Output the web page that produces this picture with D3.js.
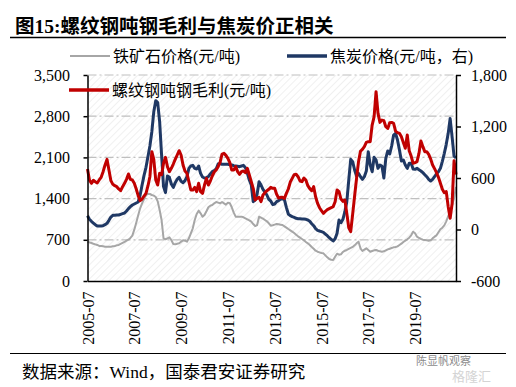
<!DOCTYPE html>
<html>
<head>
<meta charset="utf-8">
<script src="https://cdn.jsdelivr.net/npm/d3@7"></script>
<style>
  body { margin: 0; background: #fff; }
  svg { display: block; }
</style>
</head>
<body>
<svg id="chart" width="516" height="387"></svg>
<script>
// monthly, 2005-07 .. 2021-04
const ironOre = [
  663,657,646,634,623,612,595,595,589,583,
  583,583,583,589,595,606,612,629,646,663,
  685,702,731,770,872,991,1116,1235,1320,1393,
  1455,1484,1478,1461,1450,1427,1354,1206,1036,725,
  708,725,742,697,629,623,634,640,668,691,
  685,668,725,810,895,1036,1138,1195,1150,1093,
  1121,1184,1252,1280,1291,1320,1342,1331,1320,1342,
  1320,1297,1331,1320,1252,1161,1093,1093,1093,1093,
  1082,1065,1048,1031,1008,968,934,951,1093,1076,
  1059,1036,1014,980,940,946,957,968,963,957,
  951,929,906,883,861,838,815,787,759,736,
  714,691,663,640,612,578,549,515,498,487,
  476,470,436,402,374,362,357,413,464,447,
  453,493,515,527,544,561,578,606,640,668,
  555,510,532,555,527,498,510,521,527,515,
  504,498,504,521,538,549,561,572,578,589,
  612,634,663,685,708,736,776,838,810,753,
  731,714,702,697,691,685,691,725,753,776,
  827,878,906,946,1014,1104,1184,1291,1404,1600
];

const cokePrice = [
  1110,1048,1014,985,957,934,934,934,940,957,
  980,1031,1087,1116,1116,1121,1121,1133,1144,1155,
  1189,1229,1263,1291,1308,1325,1342,1461,1631,1795,
  1931,2112,2293,2537,2877,3064,3030,2707,2141,1603,
  1501,1784,1761,1648,1591,1671,1727,1761,1693,1671,
  1705,1772,1914,1954,1965,1914,1903,1954,1829,1767,
  1750,1755,1772,1818,1857,1874,1903,1988,1999,1982,
  1982,1982,1982,1976,1971,1959,1954,1948,1942,1954,
  1965,1925,1829,1716,1631,1348,1376,1478,1688,1631,
  1557,1512,1461,1387,1359,1297,1308,1348,1365,1393,
  1399,1382,1252,1138,1110,1093,1082,1065,1059,1059,
  1053,1053,1048,1036,1014,974,940,889,861,849,
  838,827,798,770,736,708,680,719,810,1036,
  991,1048,1178,1348,1716,2067,2027,1886,1784,1829,
  1772,1727,1772,1869,2197,1971,1857,2101,2056,1914,
  1971,1954,1750,2084,2209,2158,2294,2480,2509,2395,
  2225,2039,2056,1971,1914,1999,1999,1903,1897,1914,
  1891,1869,1841,1806,1772,1727,1699,1727,1772,1823,
  1857,1914,2033,2169,2322,2509,2760,2450,2120,2090
];

const rebarMargin = [
  705,577,538,573,557,542,577,608,674,751,
  817,693,569,526,511,499,472,452,499,538,
  584,647,584,577,538,472,394,336,355,390,
  421,507,615,907,817,577,518,654,639,771,
  841,732,674,713,763,817,868,918,868,751,
  681,654,557,460,460,491,441,538,441,421,
  518,596,518,565,623,670,693,732,782,879,
  887,864,829,779,693,693,732,674,643,674,
  681,662,713,635,557,480,344,363,375,324,
  402,429,452,468,491,480,480,410,367,375,
  375,363,421,472,553,596,639,643,615,565,
  557,600,577,511,476,452,499,382,305,254,
  219,188,212,231,243,254,266,324,460,441,
  355,328,344,188,20,-25,180,390,596,790,
  911,934,965,1015,1023,1023,1217,1314,1606,1353,
  1248,1275,1268,1198,1178,1244,1248,1237,1147,1128,
  1120,1081,1012,946,1101,918,856,771,779,790,
  887,1031,965,907,907,876,821,751,709,662,
  608,538,468,429,441,266,130,300,800,640
];

const tickLabels = ["2005-07","2007-07","2009-07","2011-07","2013-07","2015-07","2017-07","2019-07"];
const leftTicks = [0, 700, 1400, 2100, 2800, 3500];
const rightTicks = [-600, 0, 600, 1200, 1800];

const months = [];
for (let i = 0; i < ironOre.length; i++) {
  let yr = 2005 + Math.floor((6 + i) / 12);
  let mo = ((6 + i) % 12) + 1;
  months.push(`${yr}-${String(mo).padStart(2, "0")}`);
}

const serif = "'Liberation Serif', 'Noto Sans CJK SC', serif";
const svg = d3.select("#chart");

let plot = { left: 87.5, right: 456, top: 75, bottom: 281 };

// hatch background
let defs = svg.append("defs");
let pat = defs.append("pattern")
  .attr("id", "hatch")
  .attr("patternUnits", "userSpaceOnUse")
  .attr("width", 5)
  .attr("height", 5)
  .attr("patternTransform", "rotate(45)");
pat.append("line")
  .attr("x1", 0).attr("y1", 0).attr("x2", 0).attr("y2", 5)
  .attr("stroke", "#e6e6e6")
  .attr("stroke-width", 1.2);

svg.append("rect")
  .attr("x", plot.left)
  .attr("y", plot.top)
  .attr("width", plot.right - plot.left)
  .attr("height", plot.bottom - plot.top)
  .attr("fill", "url(#hatch)");

let x = d3.scalePoint().domain(months).range([plot.left, plot.right]);
let yLeft = d3.scaleLinear().domain([0, 3500]).range([plot.bottom, plot.top]);
let yRight = d3.scaleLinear().domain([-600, 1800]).range([plot.bottom, plot.top]);

// gridlines
svg.append("g")
  .selectAll("line")
  .data(leftTicks.filter((d) => d > 0))
  .enter()
  .append("line")
  .attr("x1", plot.left)
  .attr("x2", plot.right)
  .attr("y1", (d) => yLeft(d))
  .attr("y2", (d) => yLeft(d))
  .attr("stroke", "#bfbfbf")
  .attr("stroke-width", 1.2)
  .attr("stroke-dasharray", "9,3,2,3");

// series
function drawLine(values, yScale, color, width) {
  let line = d3.line()
    .x((d, i) => x(months[i]))
    .y((d) => yScale(d));
  svg.append("path")
    .datum(values)
    .attr("d", line)
    .attr("fill", "none")
    .attr("stroke", color)
    .attr("stroke-width", width)
    .attr("stroke-linejoin", "round");
}
drawLine(ironOre, yLeft, "#a6a6a6", 2);
drawLine(cokePrice, yLeft, "#1f3864", 3);
drawLine(rebarMargin, yRight, "#c00000", 3);

// axes
function styleAxis(g) {
  g.select(".domain").attr("stroke", "#000").attr("stroke-width", 1.5);
  g.selectAll(".tick line").attr("stroke", "#000").attr("stroke-width", 1.5);
  g.selectAll("text")
    .attr("fill", "#000")
    .style("font-family", serif)
    .style("font-size", "16px");
}

svg.append("g")
  .attr("transform", `translate(${plot.left},0)`)
  .call(d3.axisLeft(yLeft).tickValues(leftTicks).tickSize(4).tickSizeOuter(0)
    .tickPadding(13.5).tickFormat(d3.format(",")))
  .call(styleAxis);

svg.append("g")
  .attr("transform", `translate(${plot.right},0)`)
  .call(d3.axisRight(yRight).tickValues(rightTicks).tickSize(5).tickSizeOuter(0)
    .tickPadding(10)
    .tickFormat((d) => (d < 0 ? "-" + d3.format(",")(-d) : d3.format(",")(d))))
  .call(styleAxis);

svg.append("g")
  .attr("transform", `translate(0,${plot.bottom})`)
  .call(d3.axisBottom(x).tickValues(tickLabels).tickSize(0).tickSizeOuter(0))
  .call(styleAxis)
  .selectAll("text")
  .attr("transform", "rotate(-90)")
  .attr("text-anchor", "end")
  .attr("x", -10.5)
  .attr("y", 0)
  .attr("dy", "0.35em");

// legend
let legend = svg.append("g").style("font-family", serif).style("font-size", "16px");
let items = [
  { label: "铁矿石价格(元/吨)", color: "#a6a6a6", w: 2, x: 70, y: 56 },
  { label: "焦炭价格(元/吨，右)", color: "#1f3864", w: 3.5, x: 287, y: 56 },
  { label: "螺纹钢吨钢毛利(元/吨)", color: "#c00000", w: 3.5, x: 69, y: 90 },
];
items.forEach((d) => {
  legend.append("line")
    .attr("x1", d.x).attr("x2", d.x + 40)
    .attr("y1", d.y).attr("y2", d.y)
    .attr("stroke", d.color)
    .attr("stroke-width", d.w);
  legend.append("text")
    .attr("x", d.x + 43)
    .attr("y", d.y)
    .attr("dy", "0.36em")
    .attr("fill", "#000")
    .text(d.label);
});

// title, rules, source
svg.append("text")
  .attr("x", 15)
  .attr("y", 33)
  .style("font-family", serif)
  .style("font-size", "19.5px")
  .style("font-weight", "bold")
  .text("图15:螺纹钢吨钢毛利与焦炭价正相关");

svg.append("line")
  .attr("x1", 10).attr("x2", 506).attr("y1", 37.5).attr("y2", 37.5)
  .attr("stroke", "#000").attr("stroke-width", 1.5);
svg.append("line")
  .attr("x1", 10).attr("x2", 506).attr("y1", 353.5).attr("y2", 353.5)
  .attr("stroke", "#000").attr("stroke-width", 1.2);

svg.append("text")
  .attr("x", 22)
  .attr("y", 378)
  .style("font-family", serif)
  .style("font-size", "17.5px")
  .text("数据来源：Wind，国泰君安证券研究");

// watermark
svg.append("text")
  .attr("x", 416).attr("y", 365)
  .style("font-family", "'Noto Sans CJK SC', sans-serif")
  .style("font-size", "11px")
  .attr("fill", "#8c8c8c")
  .text("陈显帆观察");
svg.append("text")
  .attr("x", 452).attr("y", 381)
  .style("font-family", "'Noto Sans CJK SC', sans-serif")
  .style("font-size", "13px")
  .attr("fill", "#d4d4d4")
  .text("格隆汇");
</script>
</body>
</html>
